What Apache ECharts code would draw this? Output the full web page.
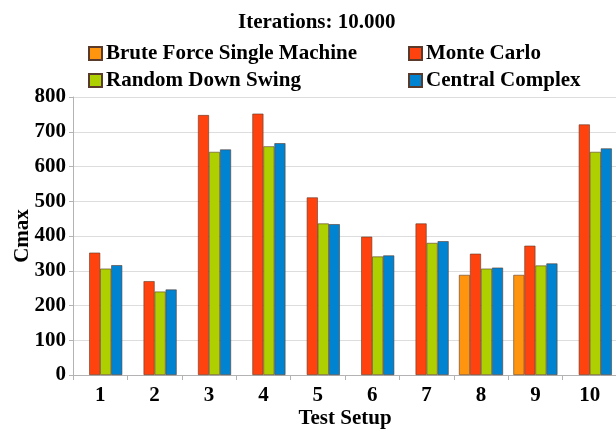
<!DOCTYPE html>
<html>
<head>
<meta charset="utf-8">
<script src="https://cdn.jsdelivr.net/npm/echarts@6/dist/echarts.min.js"></script>
<style>
    html, body { margin: 0; padding: 0; background: #fff; }
    #container { width: 616px; height: 429px; }
</style>
</head>
<body>
<div id="container"></div>
<script type="text/javascript">
    var categories = ['1', '2', '3', '4', '5', '6', '7', '8', '9', '10'];
    var bruteForce = [null, null, null, null, null, null, null, 288, 288, null];
    var monteCarlo = [352, 270, 748, 752, 511, 398, 436, 349, 372, 721];
    var randomDownSwing = [306, 240, 642, 658, 436, 341, 380, 306, 315, 642];
    var centralComplex = [316, 246, 649, 667, 434, 344, 385, 309, 321, 652];

    var serif = '"Liberation Serif", "DejaVu Serif", serif';
    var dom = document.getElementById('container');
    var myChart = echarts.init(dom);

    function bar(name, data) {
        return {
            name: name,
            type: 'bar',
            data: data,
            barGap: 0,
            barCategoryGap: '19%',
            itemStyle: { borderColor: '#5a3a2a', borderWidth: 0.6 }
        };
    }

    var legendText = { fontFamily: serif, fontWeight: 'bold', fontSize: 21, color: '#000', padding: [0, 0, 0, -1] };

    var option = {
        animation: false,
        color: ['#FF950E', '#FF420E', '#AECF00', '#0084D1'],
        title: {
            text: 'Iterations: 10.000',
            left: 233,
            top: 7,
            textStyle: { fontFamily: serif, fontWeight: 'bold', fontSize: 21, color: '#000' }
        },
        legend: [{
            data: ['Brute Force Single Machine', 'Random Down Swing'],
            orient: 'vertical',
            left: 83,
            top: 38,
            icon: 'rect',
            itemWidth: 13,
            itemHeight: 13,
            itemGap: 6,
            textStyle: legendText
        }, {
            data: ['Monte Carlo', 'Central Complex'],
            orient: 'vertical',
            left: 403,
            top: 38,
            icon: 'rect',
            itemWidth: 13,
            itemHeight: 13,
            itemGap: 6,
            textStyle: legendText
        }],
        grid: { left: 73, right: -1, top: 97, bottom: 54, outerBoundsMode: 'none', containLabel: false },
        xAxis: {
            type: 'category',
            data: categories,
            name: 'Test Setup',
            nameLocation: 'middle',
            nameGap: 33,
            nameMoveOverlap: false,
            nameTextStyle: { fontFamily: serif, fontWeight: 'bold', fontSize: 21, color: '#000' },
            axisLine: { lineStyle: { color: '#b3b3b3' } },
            axisTick: { show: true, length: 5, lineStyle: { color: '#b3b3b3' } },
            axisLabel: { fontFamily: serif, fontWeight: 'bold', fontSize: 21, color: '#000', margin: 10 }
        },
        yAxis: {
            type: 'value',
            min: 0,
            max: 800,
            interval: 100,
            name: 'Cmax',
            nameLocation: 'middle',
            nameGap: 40,
            nameMoveOverlap: false,
            nameTextStyle: { fontFamily: serif, fontWeight: 'bold', fontSize: 21, color: '#000' },
            axisLine: { show: true, lineStyle: { color: '#b3b3b3' } },
            axisTick: { show: true, length: 4, lineStyle: { color: '#b3b3b3' } },
            axisLabel: { fontFamily: serif, fontWeight: 'bold', fontSize: 21, color: '#000', margin: 7 },
            splitLine: { lineStyle: { color: '#dddddd' } }
        },
        series: [
            bar('Brute Force Single Machine', bruteForce),
            bar('Monte Carlo', monteCarlo),
            bar('Random Down Swing', randomDownSwing),
            bar('Central Complex', centralComplex)
        ]
    };
    myChart.setOption(option, true);
</script>
</body>
</html>
